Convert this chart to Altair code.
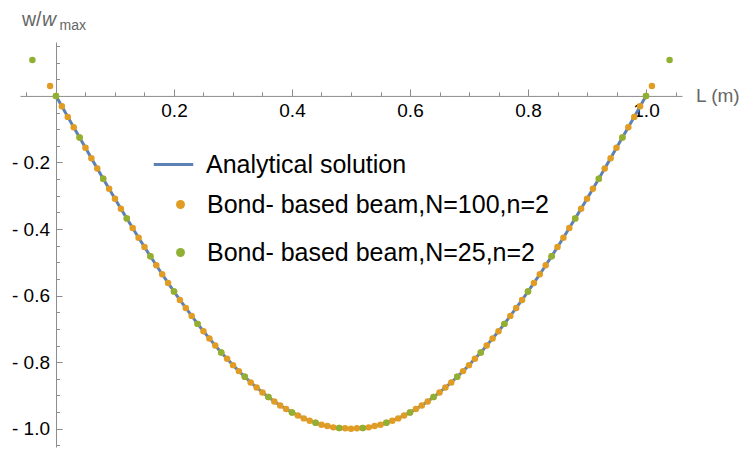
import altair as alt
import pandas as pd

# ---------------- data ----------------
orange_x = [-0.01, 0.00, 0.01, 0.02, 0.03, 0.04, 0.05, 0.06, 0.07, 0.08, 0.09,
            0.10, 0.11, 0.12, 0.13, 0.14, 0.15, 0.16, 0.17, 0.18, 0.19,
            0.20, 0.21, 0.22, 0.23, 0.24, 0.25, 0.26, 0.27, 0.28, 0.29,
            0.30, 0.31, 0.32, 0.33, 0.34, 0.35, 0.36, 0.37, 0.38, 0.39,
            0.40, 0.41, 0.42, 0.43, 0.44, 0.45, 0.46, 0.47, 0.48, 0.49,
            0.50,
            0.51, 0.52, 0.53, 0.54, 0.55, 0.56, 0.57, 0.58, 0.59, 0.60,
            0.61, 0.62, 0.63, 0.64, 0.65, 0.66, 0.67, 0.68, 0.69, 0.70,
            0.71, 0.72, 0.73, 0.74, 0.75, 0.76, 0.77, 0.78, 0.79, 0.80,
            0.81, 0.82, 0.83, 0.84, 0.85, 0.86, 0.87, 0.88, 0.89, 0.90,
            0.91, 0.92, 0.93, 0.94, 0.95, 0.96, 0.97, 0.98, 0.99, 1.00,
            1.01]
orange_y = [0.030, 0.000, -0.031, -0.063, -0.094, -0.125, -0.156, -0.187, -0.218, -0.249, -0.279,
            -0.309, -0.339, -0.368, -0.397, -0.426, -0.454, -0.482, -0.509, -0.536, -0.562,
            -0.588, -0.613, -0.637, -0.661, -0.685, -0.707, -0.729, -0.750, -0.771, -0.790,
            -0.809, -0.827, -0.844, -0.861, -0.876, -0.891, -0.905, -0.918, -0.930, -0.941,
            -0.951, -0.960, -0.969, -0.976, -0.982, -0.988, -0.992, -0.996, -0.998, -0.999,
            -1.000,
            -0.999, -0.998, -0.996, -0.992, -0.988, -0.982, -0.976, -0.969, -0.960, -0.951,
            -0.941, -0.930, -0.918, -0.905, -0.891, -0.876, -0.861, -0.844, -0.827, -0.809,
            -0.790, -0.771, -0.750, -0.729, -0.707, -0.685, -0.661, -0.637, -0.613, -0.588,
            -0.562, -0.536, -0.509, -0.482, -0.454, -0.426, -0.397, -0.368, -0.339, -0.309,
            -0.279, -0.249, -0.218, -0.187, -0.156, -0.125, -0.094, -0.063, -0.031, 0.000,
            0.030]
green_x = [-0.04, 0.00, 0.04, 0.08, 0.12, 0.16, 0.20, 0.24, 0.28, 0.32, 0.36, 0.40, 0.44, 0.48,
           0.52, 0.56, 0.60, 0.64, 0.68, 0.72, 0.76, 0.80, 0.84, 0.88, 0.92, 0.96, 1.00, 1.04]
green_y = [0.108, 0.000, -0.125, -0.249, -0.368, -0.482, -0.588, -0.685, -0.771, -0.844, -0.905,
           -0.951, -0.982, -0.998,
           -0.998, -0.982, -0.951, -0.905, -0.844, -0.771, -0.685, -0.588, -0.482, -0.368,
           -0.249, -0.125, 0.000, 0.108]
# analytical solution sampled on the beam 0..1
line_x = orange_x[1:-1]
line_y = orange_y[1:-1]

series_names = ["Analytical solution",
                "Bond- based beam,N=100,n=2",
                "Bond- based beam,N=25,n=2"]

x_major = [0.2, 0.4, 0.6, 0.8, 1.0]
x_minor = [-0.05, 0.05, 0.10, 0.15, 0.25, 0.30, 0.35, 0.45, 0.50, 0.55, 0.65, 0.70, 0.75,
           0.85, 0.90, 0.95, 1.05]
y_major = [-0.2, -0.4, -0.6, -0.8, -1.0]
y_minor = [0.15, 0.10, 0.05, -0.05, -0.10, -0.15, -0.25, -0.30, -0.35, -0.45, -0.50, -0.55,
           -0.65, -0.70, -0.75, -0.85, -0.90, -0.95, -1.05]

# ---------------- layout / style ----------------
BLUE, ORANGE, GREEN = "#5E81B5", "#E19C24", "#8FB032"
AXIS_GRAY = "#8c8c8c"
TITLE_GRAY = "#666666"
FONT = "Liberation Sans"

X_DOM = [-0.061, 1.061]
Y_DOM = [-1.055, 0.162]
W, H = 662, 405
x_zero_px = W * (0 - X_DOM[0]) / (X_DOM[1] - X_DOM[0])
y_zero_px = H * (Y_DOM[1] - 0) / (Y_DOM[1] - Y_DOM[0])

xs = alt.Scale(domain=X_DOM, nice=False, zero=False)
ys = alt.Scale(domain=Y_DOM, nice=False, zero=False)

df_line = pd.DataFrame({"x": line_x, "y": line_y, "series": series_names[0]})
df_pts = pd.concat([
    pd.DataFrame({"x": orange_x, "y": orange_y, "series": series_names[1]}),
    pd.DataFrame({"x": green_x, "y": green_y, "series": series_names[2]}),
], ignore_index=True)

common_axis = dict(grid=False, title=None, tickColor=AXIS_GRAY, domainColor=AXIS_GRAY,
                   labelFont=FONT, labelFontSize=19, labelColor="#000000", labelOverlap=False)

x_minor_axis = alt.Axis(orient="top", offset=-y_zero_px, values=x_minor, tickSize=4,
                        labels=False, domain=False, **common_axis)
y_minor_axis = alt.Axis(orient="right", offset=-(W - x_zero_px), values=y_minor, tickSize=3.5,
                        labels=False, domain=False, **common_axis)
x_major_axis = alt.Axis(orient="top", offset=-y_zero_px, values=x_major, tickSize=7,
                        labelBaseline="top", labelPadding=-13, labelFlush=False,
                        format=".1f", domain=True, domainWidth=1, **common_axis)
y_major_axis = alt.Axis(orient="right", offset=-(W - x_zero_px), values=y_major, tickSize=6,
                        labelAlign="right", labelBaseline="middle", labelPadding=-12.5,
                        labelExpr="'- ' + format(abs(datum.value), '.1f')",
                        domain=True, domainWidth=1, **common_axis)

legend_common = dict(title=None, orient="none", labelFont=FONT, labelFontSize=25,
                     labelColor="#000000", labelLimit=0)

line = alt.Chart(df_line).mark_line(strokeWidth=3).encode(
    x=alt.X("x:Q", scale=xs, axis=x_minor_axis),
    y=alt.Y("y:Q", scale=ys, axis=y_minor_axis),
    color=alt.Color("series:N", scale=alt.Scale(domain=series_names[:1], range=[BLUE]),
                    legend=alt.Legend(symbolType="stroke", symbolSize=1560, symbolStrokeWidth=3,
                                      legendX=132, legendY=101, labelOffset=11, **legend_common)),
)

points = alt.Chart(df_pts).mark_circle(size=42, opacity=1).encode(
    x=alt.X("x:Q", scale=xs, axis=x_major_axis),
    y=alt.Y("y:Q", scale=ys, axis=y_major_axis),
    color=alt.Color("series:N", scale=alt.Scale(domain=series_names[1:], range=[ORANGE, GREEN]),
                    legend=alt.Legend(symbolType="circle", symbolSize=80, symbolOpacity=1,
                                      legendX=148, legendY=150, labelOffset=14, rowPadding=22,
                                      **legend_common)),
)

def label(txt, x, y, size=19.5, style="normal"):
    return alt.Chart(pd.DataFrame({"t": [txt]})).mark_text(
        align="left", baseline="alphabetic", font=FONT, fontSize=size, fontStyle=style,
        color=TITLE_GRAY).encode(text="t:N", x=alt.value(x), y=alt.value(y))

titles = alt.layer(
    label("w/", 2, -16),
    label("w", 22, -16, style="italic"),
    label("max", 39.5, -12, size=14),
    label("L (m)", 676, 59.5, size=19),
)

chart = alt.layer(line, points, titles).resolve_scale(color="independent").resolve_axis(
    x="independent", y="independent"
).properties(
    width=W, height=H,
    autosize=alt.AutoSizeParams(type="none"),
    padding={"left": 12, "top": 34, "right": 59, "bottom": 3},
).configure_view(stroke=None)

chart.save("out.html", embed_options={"renderer": "svg", "actions": False})
